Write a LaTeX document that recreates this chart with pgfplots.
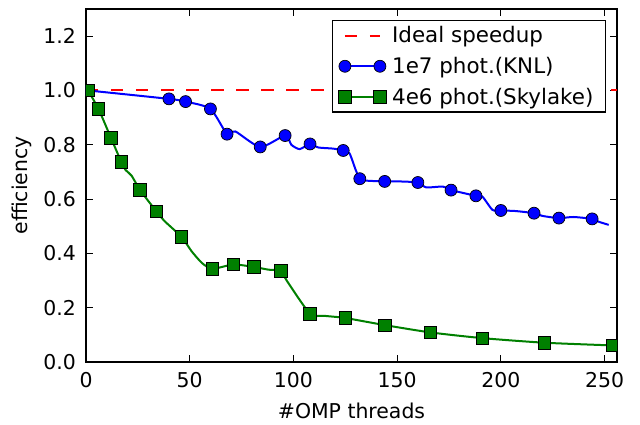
\documentclass[border=0pt]{standalone}
\usepackage{pgfplots}
\pgfplotsset{compat=1.18}
\usepackage{pgfplotstable}
\usepackage{fontspec}
\setmainfont{DejaVu Sans}
\definecolor{mgreen}{RGB}{0,128,0}
\newcommand{\bigf}{\fontsize{20.5}{24}\selectfont}
\newcommand{\legf}{\fontsize{21.5}{25}\selectfont}

\pgfplotstableread{
x y
1 1.000
40 0.969
48 0.959
60 0.932
68 0.839
72 0.849
84 0.792
96 0.834
99 0.800
103 0.784
108 0.803
112 0.790
119 0.786
124 0.779
127 0.769
130 0.708
132 0.675
135 0.668
144 0.665
151 0.665
160 0.661
164 0.643
172 0.646
176 0.633
181 0.624
188 0.612
191 0.610
196 0.560
200 0.558
207 0.556
216 0.548
220 0.538
228 0.530
235 0.534
244 0.527
247 0.517
252 0.505
}\knlline

\pgfplotstableread{
x y
1 1.000
40 0.969
48 0.959
60 0.932
68 0.839
84 0.792
96 0.834
108 0.803
124 0.779
132 0.675
144 0.665
160 0.661
176 0.633
188 0.612
200 0.558
216 0.548
228 0.530
244 0.527
}\knlmarks

\pgfplotstableread{
x y
1 1.000
6 0.932
12 0.826
17 0.737
19 0.708
22 0.686
26 0.634
34 0.554
38 0.518
46 0.461
51 0.407
56 0.364
61 0.343
71 0.359
81 0.350
88 0.340
94 0.335
97 0.297
108 0.178
115 0.170
125 0.162
144 0.136
166 0.109
191 0.088
221 0.071
254 0.061
}\skyline

\pgfplotstableread{
x y
1 1.000
6 0.932
12 0.826
17 0.737
26 0.634
34 0.554
46 0.461
61 0.343
71 0.359
81 0.350
94 0.335
108 0.178
125 0.162
144 0.136
166 0.109
191 0.088
221 0.071
254 0.061
}\skymarks

\begin{document}
\begin{tikzpicture}
\begin{axis}[
  scale only axis,
  width=531bp, height=353bp,
  xmin=0, xmax=256, ymin=0, ymax=1.3,
  xtick={0,50,100,150,200,250},
  ytick={0,0.2,0.4,0.6,0.8,1.0,1.2},
  /pgf/number format/assume math mode=true,
  tick label style={font=\bigf},
  xticklabel style={inner sep=0bp, yshift=-10bp},
  yticklabel style={inner sep=0bp, xshift=-10bp, /pgf/number format/.cd, fixed, fixed zerofill, precision=1},
  label style={font=\bigf},
  xlabel={\#OMP threads},
  ylabel={efficiency},
  xlabel style={at={(0.5,0)}, anchor=base, yshift=-56bp},
  ylabel style={at={(-0.1205,0.5)}, anchor=center},
  axis line style={line width=1.25bp},
  tick style={black, line width=0.8bp},
  major tick length=7bp,
  tick align=inside, xtick pos=both, ytick pos=both,
  clip marker paths=true,
  legend style={at={(1,1)}, anchor=north east, xshift=-11bp, yshift=-11bp,
    draw=black, line width=1.25bp, font=\legf,
    inner xsep=6bp, inner ysep=6bp, row sep=13bp,
    nodes={inner xsep=6bp, inner ysep=0bp}},
  legend cell align=left,
  legend image code/.code={\draw[#1] plot coordinates {(0bp,0bp) (35bp,0bp)};},
]
\addplot[red, line width=2bp, dash pattern=on 12.5bp off 12.5bp] coordinates {(0,1) (256,1)};
\addlegendentry{Ideal speedup}

\addplot[blue, line width=2bp, smooth, tension=0.4, forget plot] table {\knlline};
\addplot[only marks, mark=*, mark size=6bp, mark options={fill=blue, draw=black, line width=0.7bp}, forget plot] table {\knlmarks};
\addlegendimage{blue, line width=2bp, mark=*, mark size=6bp, mark options={fill=blue, draw=black, line width=0.7bp}}
\addlegendentry{1e7 phot.(KNL)}

\addplot[mgreen, line width=2bp, smooth, tension=0.4, forget plot] table {\skyline};
\addplot[only marks, mark=square*, mark size=6.2bp, mark options={fill=mgreen, draw=black, line width=0.7bp}, forget plot] table {\skymarks};
\addlegendimage{mgreen, line width=2bp, mark=square*, mark size=6.2bp, mark options={fill=mgreen, draw=black, line width=0.7bp}}
\addlegendentry{4e6 phot.(Skylake)}
\end{axis}
\path ([shift={(-86bp,-63bp)}]current axis.south west) rectangle ([shift={(23bp,9bp)}]current axis.north east);
\end{tikzpicture}
\end{document}
